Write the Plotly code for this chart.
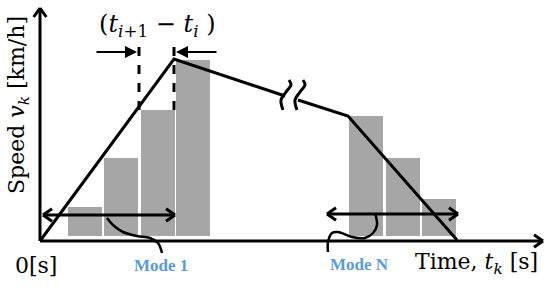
import numpy as np
import plotly.graph_objects as go

# diagram units: t = pixels right of the origin, v = pixels above the time axis
bar1_t = [45, 81, 118, 153]
bar1_v = [29, 78, 126, 176]
barN_t = [326, 362.5, 398.5]
barN_v = [120, 78, 37]
bar_base = 5
bar_width = 34

# speed profile, broken at the "≈" marks
prof_a_t = [0, 134, 245]
prof_a_v = [0, 182, 145]
prof_b_t = [258, 308, 417]
prof_b_v = [141, 125, 1]

# dashed step markers (t_i, t_{i+1})
dash_t = [99, 134]
dash_v = [131, 196]

# mode span arrows
mode1_t = [3, 135]
mode1_v = 26
modeN_t = [287, 418]
modeN_v = 27

# leader curves to the labels
lead1_t = [67, 73, 83, 97, 110, 118, 122]
lead1_v = [23, 16, 9, 5, 3, -2, -12]
leadN_t = [335, 337, 333, 325, 312, 298, 292, 288, 288]
leadN_v = [28, 16, 8, 3, 4, 9, 8, -1, -11]

# break marks
brk_t = [249, 251, 246, 241, 243]
brk_v = [161, 156, 149, 141, 131]
brk_gap = 14

LINE = "black"
SERIF = "DejaVu Serif, Liberation Serif, serif"

fig = go.Figure()

fig.add_trace(go.Bar(x=bar1_t + barN_t, y=bar1_v + barN_v, base=bar_base,
                     width=bar_width, marker=dict(color="#a6a6a6", line=dict(width=0))))


def line(t, v, w=3, dash="solid", shape="linear"):
    fig.add_trace(go.Scatter(x=t, y=v, mode="lines",
                             line=dict(color=LINE, width=w, dash=dash, shape=shape)))


def chevron(tip_t, tip_v, dx, dy, size=11, ang=35, w=3):
    # open arrow head drawn as two strokes
    a = np.arctan2(dy, dx)
    pts_t, pts_v = [], []
    for s in (1, -1):
        b = a + np.pi - s * np.radians(ang)
        pts_t += [tip_t + size * np.cos(b), tip_t, None]
        pts_v += [tip_v + size * np.sin(b), tip_v, None]
    line(pts_t, pts_v, w=w)


# axes
line([0, 0], [0, 233])
chevron(0, 233, 0, 1)
line([0, 503], [0, 0])
chevron(503, 0, 1, 0)

# profile
line(prof_a_t, prof_a_v)
line(prof_b_t, prof_b_v)
line(brk_t, brk_v, shape="spline")
line([t + brk_gap for t in brk_t], brk_v, shape="spline")

# dashed markers
for t in dash_t:
    line([t, t], dash_v, dash="dash")

# mode arrows
line(mode1_t, [mode1_v] * 2)
chevron(mode1_t[0], mode1_v, -1, 0)
chevron(mode1_t[1], mode1_v, 1, 0)
line(modeN_t, [modeN_v] * 2)
chevron(modeN_t[0], modeN_v, -1, 0)
chevron(modeN_t[1], modeN_v, 1, 0)

line(lead1_t, lead1_v, w=2.5, shape="spline")
line(leadN_t, leadN_v, w=2.5, shape="spline")

# small interval arrows
for tip, tail in ((97, 55), (136, 178)):
    fig.add_annotation(x=tip, y=189, ax=tail, ay=189, xref="x", yref="y",
                       axref="x", ayref="y", text="", showarrow=True,
                       arrowhead=2, arrowsize=1.2, arrowwidth=2, arrowcolor=LINE)

txt = dict(xref="x", yref="y", showarrow=False, font=dict(family=SERIF, size=22, color="black"))
fig.add_annotation(x=117, y=216, text="(<i>t</i><sub><i>i</i>+1</sub> − <i>t</i><sub><i>i</i></sub> )",
                   xref="x", yref="y", showarrow=False,
                   font=dict(family=SERIF, size=24, color="black"))
fig.add_annotation(x=-4, y=-24, text="0[s]", **txt)
fig.add_annotation(x=436, y=-22, text="Time, <i>t</i><sub><i>k</i></sub> [s]", **txt)
fig.add_annotation(x=-22, y=136, textangle=-90,
                   text="Speed <i>v</i><sub><i>k</i></sub> [km/h]", **txt)

lab = dict(xref="x", yref="y", showarrow=False,
           font=dict(family="Liberation Serif, serif", size=17, color="#5b9bd5"))
fig.add_annotation(x=121, y=-24, text="<b>Mode 1</b>", **lab)
fig.add_annotation(x=319, y=-23, text="<b>Mode N</b>", **lab)

fig.update_layout(width=550, height=289, margin=dict(l=0, r=0, t=0, b=0),
                  showlegend=False, plot_bgcolor="white", paper_bgcolor="white",
                  bargap=0,
                  xaxis=dict(range=[-40, 510], visible=False, fixedrange=True),
                  yaxis=dict(range=[-48, 241], visible=False, fixedrange=True))

fig.write_html("out.html", config={"displayModeBar": False},
               post_script="document.body.style.margin='0px';")
